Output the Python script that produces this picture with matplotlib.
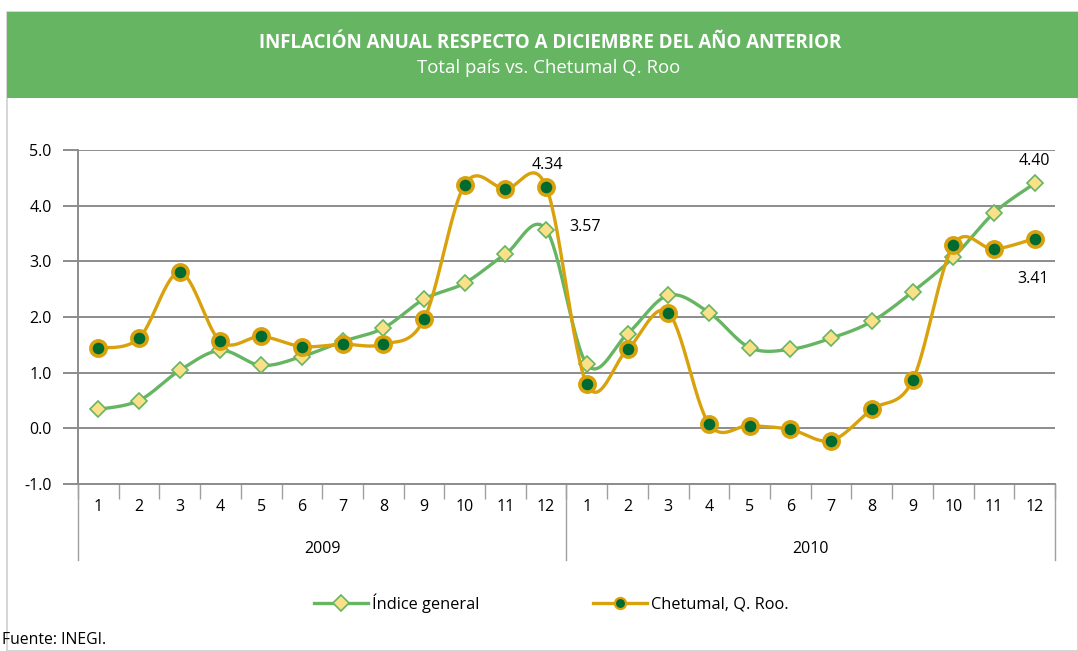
import numpy as np
import matplotlib
matplotlib.use("Agg")
import matplotlib.pyplot as plt
from matplotlib.patches import Rectangle
from matplotlib.lines import Line2D
import matplotlib.transforms as mtransforms

# ---------------- data ----------------
months = [str(m) for m in range(1, 13)] * 2
years = ["2009", "2010"]
indice_general = [0.34, 0.50, 1.04, 1.40, 1.13, 1.29, 1.56, 1.80, 2.32, 2.61, 3.13, 3.57,
                  1.15, 1.70, 2.39, 2.08, 1.45, 1.42, 1.62, 1.92, 2.45, 3.07, 3.87, 4.40]
chetumal = [1.44, 1.62, 2.80, 1.56, 1.65, 1.47, 1.51, 1.51, 1.96, 4.38, 4.30, 4.34,
            0.79, 1.42, 2.08, 0.08, 0.05, -0.02, -0.22, 0.34, 0.86, 3.29, 3.22, 3.41]
y_ticks = [-1.0, 0.0, 1.0, 2.0, 3.0, 4.0, 5.0]

title = "INFLACIÓN ANUAL RESPECTO A DICIEMBRE DEL AÑO ANTERIOR"
subtitle = "Total país vs. Chetumal Q. Roo"
source = "Fuente: INEGI."
name_idx = "Índice general"
name_che = "Chetumal, Q. Roo."

GREEN = "#66B562"
GOLD = "#D9A20C"
DARKGREEN = "#006B30"
DIAFILL = "#FBE08A"
GRID = "#8C8C8C"
FONT = ["Open Sans", "DejaVu Sans"]

plt.rcParams["font.family"] = FONT
FS = 11.5


def smooth(y, n=30):
    """Catmull-Rom smoothing (Excel-like smoothed line) in data coordinates."""
    y = np.asarray(y, float)
    x = np.arange(len(y), dtype=float)
    P = np.column_stack([x, y])
    Pext = np.vstack([P[0], P, P[-1]])
    out = []
    t = np.linspace(0, 1, n)[:, None]
    for i in range(len(P) - 1):
        p0, p1, p2, p3 = Pext[i], Pext[i + 1], Pext[i + 2], Pext[i + 3]
        b1 = p1 + (p2 - p0) / 6.0
        b2 = p2 - (p3 - p1) / 6.0
        seg = ((1 - t) ** 3) * p1 + 3 * ((1 - t) ** 2) * t * b1 + 3 * (1 - t) * t ** 2 * b2 + t ** 3 * p2
        out.append(seg if i == 0 else seg[1:])
    out = np.vstack(out)
    return out[:, 0], out[:, 1]


W, H = 1078, 651
fig = plt.figure(figsize=(W / 100, H / 100), dpi=100)

# frame & header
fig.patches.append(Rectangle((7 / W, 0), 1 - 7 / W, 1 - 12 / H, transform=fig.transFigure,
                             facecolor="white", edgecolor="#D0D0D0", linewidth=1.2, zorder=-3))
fig.patches.append(Rectangle((7 / W, 1 - 98 / H), 1 - 7 / W, 86 / H, transform=fig.transFigure,
                             facecolor=GREEN, edgecolor="none", zorder=-2))
fig.text(550 / W, 1 - 43 / H, title, color="white", fontsize=13.5, fontweight="bold",
         ha="center", va="center", family=FONT)
fig.text(549 / W, 1 - 68 / H, subtitle, color="white", fontsize=13.4,
         ha="center", va="center", family=FONT)
fig.text(2 / W, 1 - 640 / H, source, fontsize=11.3, ha="left", va="center", family=FONT)

ax = fig.add_axes([78 / W, 1 - 484 / H, (1055 - 78) / W, (484 - 150) / H])
ax.patch.set_alpha(0)
n = len(months)
x = np.arange(n)
ax.set_xlim(-0.5, n - 0.5)
ax.set_ylim(-1.0, 5.0)

# grid & spines
ax.set_yticks(y_ticks)
ax.set_yticklabels([f"{v:.1f}" for v in y_ticks], fontsize=FS)
ax.yaxis.grid(True, color=GRID, linewidth=1.4)
ax.set_axisbelow(True)
ax.tick_params(axis="y", length=11, width=1.4, color=GRID, pad=8)
for s in ["top", "right"]:
    ax.spines[s].set_visible(False)
ax.spines["left"].set_color(GRID)
ax.spines["left"].set_linewidth(1.4)
ax.spines["bottom"].set_color(GRID)
ax.spines["bottom"].set_linewidth(1.4)

# x axis: month labels and category ticks
ax.set_xticks(x)
ax.set_xticklabels(months, fontsize=FS)
ax.tick_params(axis="x", length=0, pad=11)
ax.set_xticks(np.arange(-0.5, n, 1.0), minor=True)
ax.tick_params(axis="x", which="minor", length=11, width=1.0, color="#A0A0A0", direction="out")

trans = mtransforms.blended_transform_factory(ax.transData, ax.transAxes)
for xb in [-0.5, 11.5, 23.5]:
    ax.plot([xb, xb], [0, -76 / 334], color="#A0A0A0", linewidth=1.0, transform=trans, clip_on=False)
for i, yr in enumerate(years):
    ax.text(5.5 + 12 * i, -65 / 334, yr, transform=trans, ha="center", va="center", fontsize=FS)

# lines
xs, ys = smooth(indice_general)
ax.plot(xs, ys, color=GREEN, linewidth=2.4, zorder=3, solid_capstyle="round")
ax.plot(x, indice_general, linestyle="none", marker="D", markersize=8, markerfacecolor=DIAFILL,
        markeredgecolor=GREEN, markeredgewidth=1.2, zorder=4)
xs, ys = smooth(chetumal)
ax.plot(xs, ys, color=GOLD, linewidth=2.4, zorder=5, solid_capstyle="round")
ax.plot(x, chetumal, linestyle="none", marker="o", markersize=11, markerfacecolor=DARKGREEN,
        markeredgecolor=GOLD, markeredgewidth=2.6, zorder=6)

# data labels
lab_kw = dict(textcoords="offset points", ha="center", va="center", fontsize=FS)
ax.annotate(f"{chetumal[11]:.2f}", (11, chetumal[11]), xytext=(1, 16), **lab_kw)
ax.annotate(f"{indice_general[11]:.2f}", (11, indice_general[11]), xytext=(28, 2), **lab_kw)
ax.annotate(f"{indice_general[23]:.2f}", (23, indice_general[23]), xytext=(0, 16), **lab_kw)
ax.annotate(f"{chetumal[23]:.2f}", (23, chetumal[23]), xytext=(-1, -29), **lab_kw)

# legend
h1 = Line2D([], [], color=GREEN, linewidth=2.4, marker="D", markersize=8, markerfacecolor=DIAFILL,
            markeredgecolor=GREEN, markeredgewidth=1.2)
h2 = Line2D([], [], color=GOLD, linewidth=2.4, marker="o", markersize=8, markerfacecolor=DARKGREEN,
            markeredgecolor=GOLD, markeredgewidth=1.6)
fig.legend([h1, h2], [name_idx, name_che], loc="center", bbox_to_anchor=(551.5 / W, 1 - 603 / H),
           ncol=2, frameon=False, fontsize=11.8, handlelength=3.3, handletextpad=0.25,
           columnspacing=6.9)

fig.savefig("out.png", dpi=100)
